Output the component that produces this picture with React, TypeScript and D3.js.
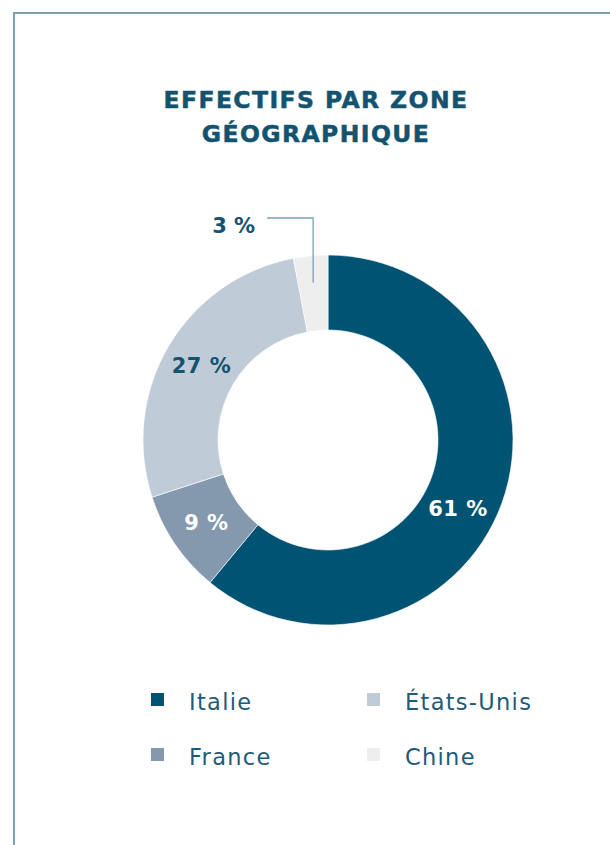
import * as d3 from "d3";

const zones = ["Italie", "France", "États-Unis", "Chine"];
const shares = [61, 9, 27, 3];
const colors = ["#005373", "#8599ae", "#c0cbd8", "#eeeeee"];
const legendOrder = ["Italie", "États-Unis", "France", "Chine"];
const titleLines = ["EFFECTIFS PAR ZONE", "GÉOGRAPHIQUE"];

const width = 610;
const height = 845;
const cx = 328;
const cy = 440;
const outerR = 185;
const innerR = 110;
const labelR = 147;
const font = "'DejaVu Sans', sans-serif";
const titleColor = "#13536f";

export default function App() {
  const data = zones.map((z, i) => ({ zone: z, value: shares[i], color: colors[i] }));
  const pie = d3.pie<any>().sort(null).value((d) => d.value);
  const arcs = pie(data);
  const arc = d3.arc<any>().innerRadius(innerR).outerRadius(outerR);

  // point on the ring at a given angle (radians, clockwise from top)
  const at = (a: number, r: number) => [cx + r * Math.sin(a), cy - r * Math.cos(a)];

  // the biggest slice gets its label pushed a bit further round
  const labelShift: Record<string, number> = { Italie: 8 };

  return (
    <svg width={width} height={height} style={{ position: "absolute", left: 0, top: 0 }}>
      <rect width={width} height={height} fill="#fff" />
      <line x1={13} x2={width} y1={13} y2={13} stroke="#7e9fb3" strokeWidth={2} />
      <line x1={14} x2={14} y1={12} y2={height} stroke="#7e9fb3" strokeWidth={2} />

      {titleLines.map((t, i) => (
        <text key={t} x={316} y={108 + i * 34} textAnchor="middle" fontFamily={font}
          fontWeight="bold" fontSize={23.5} letterSpacing={1.4} fill={titleColor}
          stroke={titleColor} strokeWidth={0.5}>{t}</text>
      ))}

      <g transform={`translate(${cx},${cy})`}>
        {arcs.map((a) => (
          <path key={a.data.zone} d={arc(a) as string} fill={a.data.color} stroke="#fff" strokeWidth={0.6} />
        ))}
      </g>

      {arcs.map((a) => {
        const mid = (a.startAngle + a.endAngle) / 2;
        const txt = `${a.data.value} %`;
        if (a.data.value < 5) {
          const [px, py] = at(mid, 158);
          const topY = cy - 222;
          const endX = px - 46;
          return (
            <g key={a.data.zone}>
              <path d={`M${px},${py}V${topY}H${endX}`} fill="none" stroke="#7e9fb3" strokeWidth={1.3} />
              <text x={endX - 12} y={topY + 14.5} textAnchor="end" fontFamily={font} fontWeight="bold"
                fontSize={21} fill={titleColor}>{txt}</text>
            </g>
          );
        }
        const ang = mid + ((labelShift[a.data.zone] || 0) * Math.PI) / 180;
        const [lx, ly] = at(ang, labelR);
        const dark = a.data.value > 5 && a.data.zone !== "États-Unis";
        return (
          <text key={a.data.zone} x={lx} y={ly + 7.5} textAnchor="middle" fontFamily={font}
            fontWeight="bold" fontSize={21} letterSpacing={0.5} fill={dark ? "#fff" : titleColor}>{txt}</text>
        );
      })}

      {legendOrder.map((z, i) => {
        const col = i % 2;
        const row = Math.floor(i / 2);
        const x = 151 + col * 216;
        const y = 693 + row * 55;
        return (
          <g key={z}>
            <rect x={x} y={y} width={13} height={13} fill={colors[zones.indexOf(z)]} />
            <text x={x + 38} y={y + 17} fontFamily={font} fontSize={22.5} letterSpacing={1.3}
              fill="#1d5b78">{z}</text>
          </g>
        );
      })}
    </svg>
  );
}
